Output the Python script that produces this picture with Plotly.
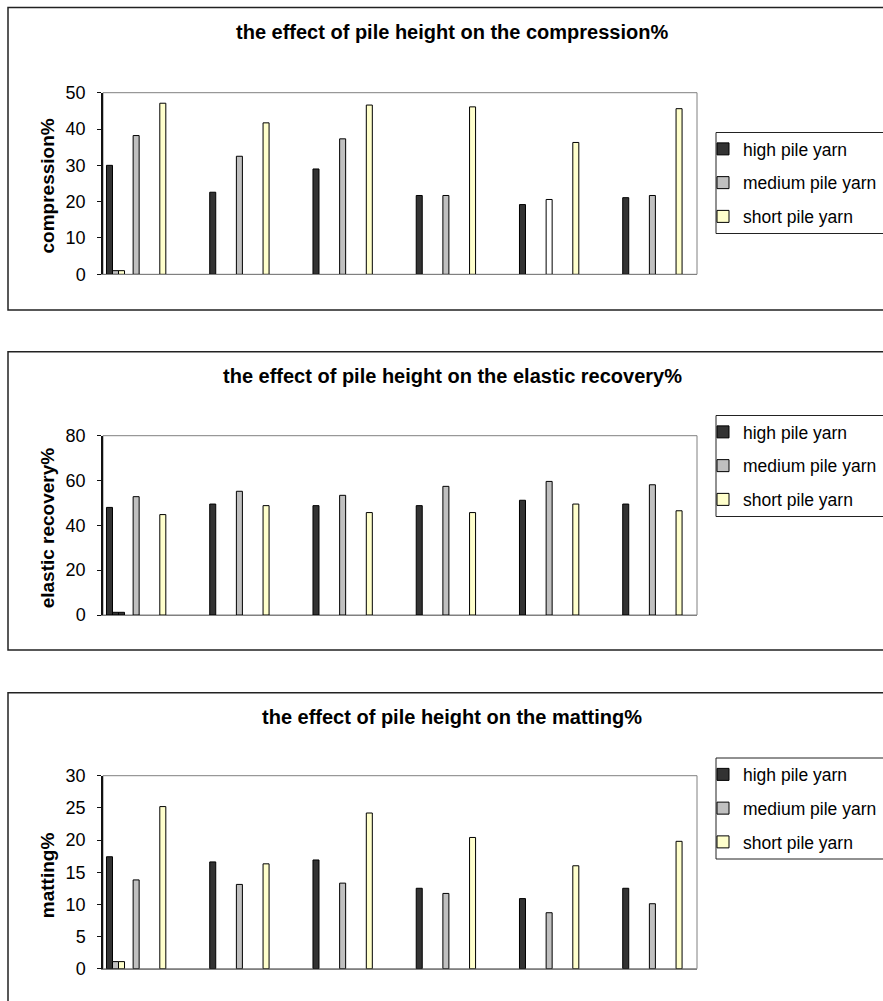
import plotly.graph_objects as go

W, H = 883, 1001
FONT = "Liberation Sans, Arial, sans-serif"

# ---- series ---------------------------------------------------------------
series_names = ["high pile yarn", "medium pile yarn", "short pile yarn"]
series_colors = ["#333333", "#C0C0C0", "#FFFFCC"]

# compression %
compression_high = [30.0, 22.6, 29.0, 21.7, 19.2, 21.1]
compression_medium = [38.2, 32.5, 37.3, 21.7, 20.6, 21.7]
compression_short = [47.1, 41.7, 46.6, 46.1, 36.3, 45.6]

# elastic recovery %
elastic_high = [48.0, 49.5, 48.8, 48.8, 51.2, 49.5]
elastic_medium = [52.8, 55.2, 53.4, 57.4, 59.6, 58.1]
elastic_short = [44.8, 48.8, 45.7, 45.7, 49.5, 46.5]

# matting %
matting_high = [17.4, 16.6, 16.9, 12.5, 10.9, 12.5]
matting_medium = [13.8, 13.1, 13.3, 11.7, 8.7, 10.1]
matting_short = [25.2, 16.3, 24.2, 20.4, 16.0, 19.8]

# small leftover values (medium, short) sitting in the first category
compression_stray = [1.0, 1.0]
elastic_stray = [1.2, 1.2]
matting_stray = [1.1, 1.1]

titles = [
    "the effect of pile height on the compression%",
    "the effect of pile height on the elastic recovery%",
    "the effect of pile height on the matting%",
]
axis_titles = ["compression%", "elastic recovery%", "matting%"]
y_max = [50, 80, 30]
y_step = [10, 20, 5]

# ---- layout helpers (pixel geometry -> paper fractions) -------------------
def px_x(v):
    return v / W


def px_y(v):
    return 1 - v / H


plot_left, plot_right = 103, 697
plot_tops = [92.7, 435.7, 775.7]
plot_bottoms = [274.3, 615.0, 968.7]
frame_tops = [7.5, 351.7, 692.7]
frame_bottoms = [310.0, 650.0, 1012.0]
title_y = [31.7, 375.5, 716.5]
legend_centers = [183.0, 466.0, 808.5]
legend_half = 50.5

SLOTS_PER_GROUP = 5
x_range = [-0.605, 28.16]

panels = [
    dict(values=[compression_high, compression_medium, compression_short],
         stray=compression_stray, stray_fill=["#C0C0C0", "#FFFFCC"],
         medium_fill=["#C0C0C0", "#C0C0C0", "#C0C0C0", "#C0C0C0", "#FFFFFF", "#C0C0C0"]),
    dict(values=[elastic_high, elastic_medium, elastic_short],
         stray=elastic_stray, stray_fill=["#333333", "#333333"],
         medium_fill=["#C0C0C0"] * 6),
    dict(values=[matting_high, matting_medium, matting_short],
         stray=matting_stray, stray_fill=["#C0C0C0", "#FFFFCC"],
         medium_fill=["#C0C0C0"] * 6),
]

fig = go.Figure()
shapes = []
annotations = []
layout_extra = {}

for p, panel in enumerate(panels):
    n = p + 1
    xname = "x" if n == 1 else f"x{n}"
    yname = "y" if n == 1 else f"y{n}"
    legend_id = "legend" if n == 1 else f"legend{n}"

    for j in range(3):
        vals = panel["values"][j]
        xs = [SLOTS_PER_GROUP * k + j for k in range(len(vals))]
        ys = list(vals)
        if j == 1:
            fills = list(panel["medium_fill"])
        else:
            fills = [series_colors[j]] * len(vals)
        if j > 0:
            xs.append(0)
            ys.append(panel["stray"][j - 1])
            fills.append(panel["stray_fill"][j - 1])
        fig.add_trace(go.Bar(
            x=xs, y=ys, name=series_names[j],
            marker=dict(color=fills, line=dict(color="black", width=1)),
            xaxis=xname, yaxis=yname,
            legend=legend_id, legendgroup=f"{legend_id}-{j}",
            hoverinfo="skip",
        ))

    ax_suffix = "" if n == 1 else str(n)
    layout_extra[f"xaxis{ax_suffix}"] = dict(
        domain=[px_x(plot_left), px_x(plot_right)],
        range=x_range, anchor=yname,
        showticklabels=False, ticks="", showgrid=False, zeroline=False,
        showline=True, linecolor="#808080", linewidth=1, fixedrange=True,
    )
    layout_extra[f"yaxis{ax_suffix}"] = dict(
        domain=[px_y(plot_bottoms[p]), px_y(plot_tops[p])],
        range=[0, y_max[p]], dtick=y_step[p], tick0=0, anchor=xname,
        showgrid=False, zeroline=False,
        showline=True, linecolor="#111111", linewidth=1.5,
        ticks="outside", ticklen=4, tickwidth=1, tickcolor="#111111",
        ticklabelstandoff=8,
        tickfont=dict(family=FONT, size=18, color="black"),
        fixedrange=True,
    )
    layout_extra[legend_id] = dict(
        x=px_x(703), xanchor="left",
        y=px_y(legend_centers[p]), yanchor="middle",
        bgcolor="rgba(0,0,0,0)", borderwidth=0,
        font=dict(family=FONT, size=17.5, color="black"),
        traceorder="grouped", tracegroupgap=8,
    )

    # outer frame of the chart sheet
    shapes.append(dict(type="rect", xref="paper", yref="paper",
                       x0=px_x(8), x1=px_x(W + 20),
                       y0=px_y(frame_bottoms[p]), y1=px_y(frame_tops[p]),
                       line=dict(color="#222222", width=1.5), layer="below"))
    # plot area border
    shapes.append(dict(type="rect", xref=f"{xname} domain", yref=f"{yname} domain",
                       x0=0, x1=1, y0=0, y1=1,
                       line=dict(color="#808080", width=1), layer="below"))
    # legend box
    shapes.append(dict(type="rect", xref="paper", yref="paper",
                       x0=px_x(716), x1=px_x(W + 20),
                       y0=px_y(legend_centers[p] + legend_half),
                       y1=px_y(legend_centers[p] - legend_half),
                       line=dict(color="#222222", width=1), layer="below"))

    annotations.append(dict(
        text=f"<b>{titles[p]}</b>", xref="paper", yref="paper",
        x=px_x(452), y=px_y(title_y[p]), xanchor="center", yanchor="middle",
        showarrow=False, font=dict(family=FONT, size=20, color="black"),
    ))
    annotations.append(dict(
        text=f"<b>{axis_titles[p]}</b>", xref="paper", yref="paper",
        x=px_x(47), y=px_y((plot_tops[p] + plot_bottoms[p]) / 2 + 3),
        xanchor="center", yanchor="middle", textangle=-90,
        showarrow=False, font=dict(family=FONT, size=19, color="black"),
    ))

fig.update_layout(
    width=W, height=H,
    margin=dict(l=0, r=0, t=0, b=0, autoexpand=False),
    paper_bgcolor="white", plot_bgcolor="white",
    barmode="group", bargap=0.126, bargroupgap=0,
    font=dict(family=FONT, size=18, color="black"),
    showlegend=True,
    shapes=shapes, annotations=annotations,
    **layout_extra,
)

fig.write_html("out.html")
